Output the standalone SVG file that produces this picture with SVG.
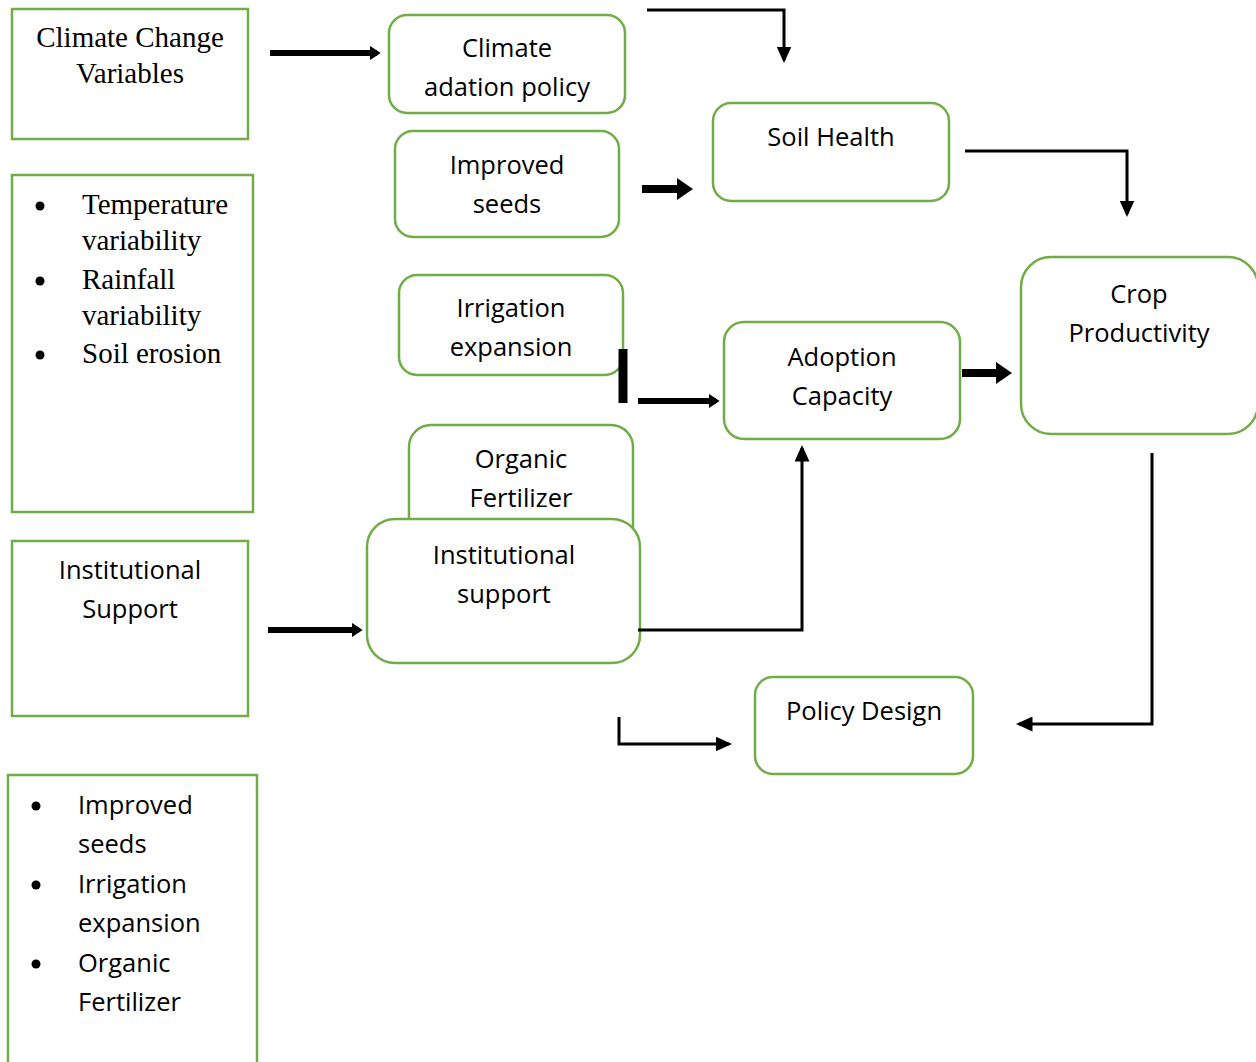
<svg xmlns="http://www.w3.org/2000/svg" width="1256" height="1062" viewBox="0 0 1256 1062">
<style>
.box{fill:#fff;stroke:#70AD47;stroke-width:2.5}
.serif{font-family:"Liberation Serif","Times New Roman",serif;font-size:29px;fill:#000}
.sans{font-family:"Open Sans","Liberation Sans",sans-serif;font-size:25.5px;fill:#000}
.c{text-anchor:middle}
.ln{fill:none;stroke:#000;stroke-width:3}
.thick{fill:none;stroke:#000}
</style>
<defs>
<marker id="ah" markerWidth="5.5" markerHeight="5" refX="4.5" refY="2.5" orient="auto" markerUnits="strokeWidth"><path d="M0,0 L5.5,2.5 L0,5 z" fill="#000"/></marker>
<marker id="ahs" markerWidth="1.8" markerHeight="2.4" refX="1.2" refY="1.2" orient="auto" markerUnits="strokeWidth"><path d="M0,0 L1.8,1.2 L0,2.4 z" fill="#000"/></marker>
<marker id="ahb" markerWidth="16" markerHeight="22" refX="2" refY="11" orient="auto" markerUnits="userSpaceOnUse"><path d="M0,0 L16,11 L0,22 z" fill="#000"/></marker>
</defs>
<rect width="1256" height="1062" fill="#fff"/>

<g id="climate-change-variables">
<rect class="box" x="12" y="9" width="236" height="130"/>
<text class="serif c" x="130" y="47">Climate Change</text>
<text class="serif c" x="130" y="83">Variables</text>
</g>

<g id="climate-list">
<rect class="box" x="12" y="175" width="241" height="337"/>
<circle cx="40" cy="206" r="4.5"/>
<circle cx="40" cy="281" r="4.5"/>
<circle cx="40" cy="355" r="4.5"/>
<text class="serif" x="82" y="214">Temperature</text>
<text class="serif" x="82" y="250">variability</text>
<text class="serif" x="82" y="289">Rainfall</text>
<text class="serif" x="82" y="325">variability</text>
<text class="serif" x="82" y="363">Soil erosion</text>
</g>

<g id="institutional-support-left">
<rect class="box" x="12" y="541" width="236" height="175"/>
<text class="sans c" x="130" y="579">Institutional</text>
<text class="sans c" x="130" y="618">Support</text>
</g>

<g id="adaptation-list">
<rect class="box" x="8" y="775" width="249" height="300"/>
<circle cx="36" cy="806" r="4.5"/>
<circle cx="36" cy="885" r="4.5"/>
<circle cx="36" cy="964" r="4.5"/>
<text class="sans" x="78" y="814">Improved</text>
<text class="sans" x="78" y="853">seeds</text>
<text class="sans" x="78" y="893">Irrigation</text>
<text class="sans" x="78" y="932">expansion</text>
<text class="sans" x="78" y="972">Organic</text>
<text class="sans" x="78" y="1011">Fertilizer</text>
</g>

<g id="climate-adation-policy">
<rect class="box" x="389" y="15" width="236" height="98" rx="18"/>
<text class="sans c" x="507" y="57">Climate</text>
<text class="sans c" x="507" y="96">adation policy</text>
</g>

<g id="improved-seeds">
<rect class="box" x="395" y="131" width="224" height="106" rx="18"/>
<text class="sans c" x="507" y="174">Improved</text>
<text class="sans c" x="507" y="213">seeds</text>
</g>

<g id="irrigation-expansion">
<rect class="box" x="399" y="275" width="224" height="100" rx="18"/>
<text class="sans c" x="511" y="317">Irrigation</text>
<text class="sans c" x="511" y="356">expansion</text>
</g>

<g id="organic-fertilizer">
<rect class="box" x="409" y="425" width="224" height="150" rx="22"/>
<text class="sans c" x="521" y="468">Organic</text>
<text class="sans c" x="521" y="507">Fertilizer</text>
</g>

<g id="institutional-support">
<rect class="box" x="367" y="519" width="273" height="144" rx="28"/>
<text class="sans c" x="504" y="564">Institutional</text>
<text class="sans c" x="504" y="603">support</text>
</g>

<g id="soil-health">
<rect class="box" x="713" y="103" width="236" height="98" rx="18"/>
<text class="sans c" x="831" y="146">Soil Health</text>
</g>

<g id="adoption-capacity">
<rect class="box" x="724" y="322" width="236" height="117" rx="20"/>
<text class="sans c" x="842" y="366">Adoption</text>
<text class="sans c" x="842" y="405">Capacity</text>
</g>

<g id="crop-productivity">
<rect class="box" x="1021" y="257" width="237" height="177" rx="30"/>
<text class="sans c" x="1139" y="303">Crop</text>
<text class="sans c" x="1139" y="342">Productivity</text>
</g>

<g id="policy-design">
<rect class="box" x="755" y="677" width="218" height="97" rx="18"/>
<text class="sans c" x="864" y="720">Policy Design</text>
</g>

<g id="connectors">
<line class="thick" x1="270" y1="53" x2="377" y2="53" stroke-width="6" marker-end="url(#ahs)"/>
<polyline class="ln" points="647,10 784,10 784,60" marker-end="url(#ah)"/>
<line class="thick" x1="642" y1="189" x2="679" y2="189" stroke-width="8" marker-end="url(#ahb)"/>
<polyline class="ln" points="965,151 1127,151 1127,214" marker-end="url(#ah)"/>
<line class="thick" x1="623" y1="349" x2="623" y2="403" stroke-width="9"/>
<line class="thick" x1="638" y1="401" x2="716" y2="401" stroke-width="6" marker-end="url(#ahs)"/>
<line class="thick" x1="962" y1="373" x2="998" y2="373" stroke-width="8" marker-end="url(#ahb)"/>
<line class="thick" x1="268" y1="630" x2="359" y2="630" stroke-width="6" marker-end="url(#ahs)"/>
<polyline class="ln" points="638,630 802,630 802,448" marker-end="url(#ah)"/>
<polyline class="ln" points="1152,453 1152,724 1019,724" marker-end="url(#ah)"/>
<polyline class="ln" points="619,717 619,744 729,744" marker-end="url(#ah)"/>
</g>
</svg>
